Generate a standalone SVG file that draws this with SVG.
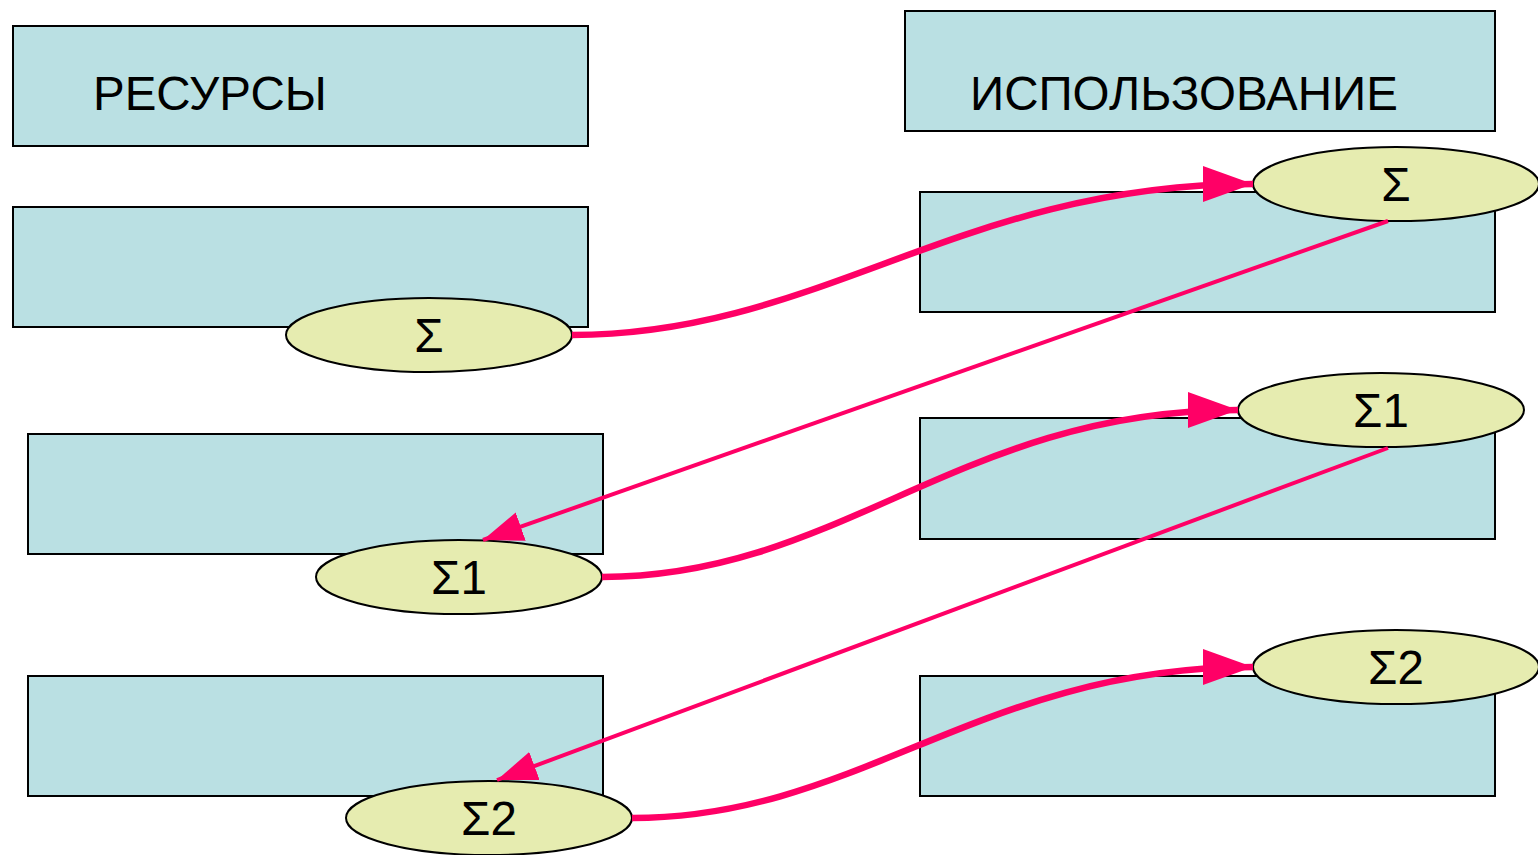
<svg xmlns="http://www.w3.org/2000/svg" width="1538" height="855" viewBox="0 0 1538 855">
<style>
.box{fill:#BAE0E3;stroke:#000;stroke-width:2}
.ell{fill:#E6ECB0;stroke:#000;stroke-width:2}
.t{font-family:"Liberation Sans",Arial,sans-serif;font-size:47.5px;fill:#000}
.c{text-anchor:middle}
.thick{fill:none;stroke:#FF0066;stroke-width:6.5}
.thin{fill:none;stroke:#FF0066;stroke-width:4}
</style>
<defs>
<marker id="ah1" markerUnits="userSpaceOnUse" markerWidth="52" markerHeight="38" refX="50" refY="18" orient="auto" viewBox="0 0 52 38">
<path d="M0,0 L50,18 L0,36 z" fill="#FF0066"/>
</marker>
<marker id="ah2" markerUnits="userSpaceOnUse" markerWidth="42" markerHeight="32" refX="40" refY="15" orient="auto" viewBox="0 0 42 32">
<path d="M0,0 L40,15 L0,30 z" fill="#FF0066"/>
</marker>
</defs>
<rect width="1538" height="855" fill="#fff"/>
<g id="res-head"><rect class="box" x="13" y="26" width="575" height="120"/><text class="t" x="93" y="110">РЕСУРСЫ</text></g>
<g id="res-1"><rect class="box" x="13" y="207" width="575" height="120"/></g>
<g id="res-2"><rect class="box" x="28" y="434" width="575" height="120"/></g>
<g id="res-3"><rect class="box" x="28" y="676" width="575" height="120"/></g>
<g id="use-head"><rect class="box" x="905" y="11" width="590" height="120"/><text class="t" x="970" y="110">ИСПОЛЬЗОВАНИЕ</text></g>
<g id="use-1"><rect class="box" x="920" y="192" width="575" height="120"/></g>
<g id="use-2"><rect class="box" x="920" y="418" width="575" height="121"/></g>
<g id="use-3"><rect class="box" x="920" y="676" width="575" height="120"/></g>
<g id="res-sum"><ellipse class="ell" cx="429" cy="335" rx="143" ry="37"/><text class="t c" x="429" y="352">Σ</text></g>
<g id="res-sum1"><ellipse class="ell" cx="459" cy="577" rx="143" ry="37"/><text class="t c" x="459" y="594">Σ1</text></g>
<g id="res-sum2"><ellipse class="ell" cx="489" cy="818" rx="143" ry="37"/><text class="t c" x="489" y="835">Σ2</text></g>
<g id="use-sum"><ellipse class="ell" cx="1396" cy="184" rx="143" ry="37"/><text class="t c" x="1396" y="201">Σ</text></g>
<g id="use-sum1"><ellipse class="ell" cx="1381" cy="410" rx="143" ry="37"/><text class="t c" x="1381" y="427">Σ1</text></g>
<g id="use-sum2"><ellipse class="ell" cx="1396" cy="667" rx="143" ry="37"/><text class="t c" x="1396" y="684">Σ2</text></g>
<g id="connectors">
<path class="thick" d="M572,335 C820,335 960,184 1253,184" marker-end="url(#ah1)"/>
<path class="thick" d="M602,577 C840,577 960,410 1238,410" marker-end="url(#ah1)"/>
<path class="thick" d="M632,818 C860,818 980,667 1253,667" marker-end="url(#ah1)"/>
<path class="thin" d="M1388,221 L483,540" marker-end="url(#ah2)"/>
<path class="thin" d="M1388,448 L497,780" marker-end="url(#ah2)"/>
</g>
</svg>
